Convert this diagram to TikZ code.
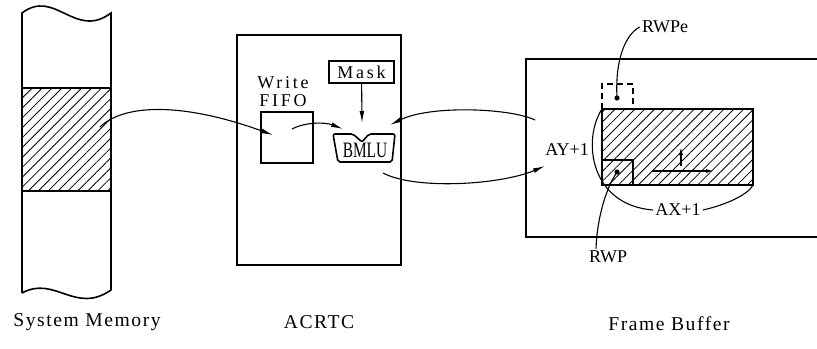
\documentclass[tikz,border=0pt]{standalone}
\usepackage{fontspec}
\setmainfont{Liberation Serif}
\newfontfamily\spaced[LetterSpace=15]{Liberation Serif}
\newfontfamily\wide[LetterSpace=8]{Liberation Serif}
\usetikzlibrary{arrows.meta,patterns.meta}
\tikzset{box/.style={draw,line width=0.8pt,inner sep=0pt},
 lbl/.style={font=\fontsize{9}{9}\selectfont,inner sep=1pt},
 title/.style={font=\fontsize{9.8}{11}\selectfont\wide,inner sep=1pt},
 hatch/.style={pattern={Lines[angle=45,distance=3.5pt,line width=0.4pt]}},
 wire/.style={line width=0.55pt},
 arr/.style={wire,-{Latex[length=6pt,width=2.4pt]}},
 sarr/.style={wire,-{Latex[length=4pt,width=2pt]}}}

\begin{document}
\begin{tikzpicture}[x=0.5pt,y=-0.5pt]
\useasboundingbox (0,0) rectangle (817,348);
\draw[box,hatch] (22,88) rectangle (111,191);
\draw[box] (22,293) -- (22,13) .. controls (55,-12) and (75,40) .. (111,13)
 -- (111,290) .. controls (75,315) and (55,275) .. (22,293);
\node[title] (sml) at (87,322) {System Memory};
\node[box,minimum width=82pt,minimum height=115pt] (ac) at (319,150) {};
\node[box,minimum width=32.5pt,minimum height=11pt,font=\fontsize{9}{9}\selectfont\spaced] (mask) at (361.5,72) {Mask};
\node[lbl,align=center,font=\fontsize{9}{9}\selectfont\spaced] (wf) at (283,92) {Write\\FIFO};
\node[box,minimum width=26pt,minimum height=25.5pt] (fifo) at (287,137.5) {};
\draw[box,rounded corners=1pt] (333,134) -- (353,134) -- (362,142) -- (369,134) -- (395,134)
 -- (392,162) -- (338,162) -- cycle;
\node[font=\fontsize{11}{11}\selectfont,inner sep=0pt] (bmlu) at (365,150) {\scalebox{0.7}[1]{BMLU}};
\node[title] (acl) at (319,322) {ACRTC};
\draw[box] (817,59) -- (526,59) -- (526,237) -- (817,237);
\draw[box,hatch] (602,109) rectangle (753,185);
\draw[box] (602,160) rectangle (633,185);
\draw[box,dash pattern=on 3pt off 2pt] (602,109) -- (602,84) -- (633,84) -- (633,109);
\coordinate (rwp) at (617,172);\coordinate (rwpe) at (617,98);
\fill (rwp) circle (1.3pt) (rwpe) circle (1.3pt);
\node[lbl] (rpe) at (665,27) {RWPe};
\node[lbl] (rp) at (608,257) {RWP};
\node[lbl] (ay) at (567,150) {AY+1};
\node[lbl] (ax) at (678,210) {AX+1};
\node[title] (fbl) at (669,324) {Frame Buffer};
\coordinate (atl) at (602,109);\coordinate (abr) at (753,185);
\draw[wire] (rpe.west) .. controls (625,35) and (615,60) .. (rwpe);
\draw[wire] ([xshift=-6pt]rp.north) .. controls (597,220) and (605,190) .. (rwp);
\draw[wire] (atl) .. controls (582,140) and (590,205) .. (ax.west);
\draw[wire] (ax.east) .. controls (725,205) and (748,195) .. (abr);
\coordinate (h0) at (652,171);\coordinate (h1) at (714,171);
\coordinate (v0) at (681,166);\coordinate (v1) at (681,147);
\draw[sarr] (h0) -- (h1);\draw[sarr] (v0) -- (v1);
\coordinate (sd) at (100,127);\coordinate (fi) at (273,135);
\coordinate (fo) at (292,129);\coordinate (bi) at (343,129);
\coordinate (mt) at (362,123);
\coordinate (fbo) at (535,120);\coordinate (bin) at (390,125);
\coordinate (bo) at (383,173);\coordinate (fbi) at (545,166);
\draw[arr] (sd) .. controls (125,103) and (185,103) .. (fi);
\draw[arr] (fo) .. controls (305,122) and (325,122) .. (bi);
\draw[arr] (mask) -- (mt);
\draw[arr] (fbo) .. controls (510,108) and (430,105) .. (bin);
\draw[arr] (bo) .. controls (415,190) and (500,185) .. (fbi);
\end{tikzpicture}
\end{document}
